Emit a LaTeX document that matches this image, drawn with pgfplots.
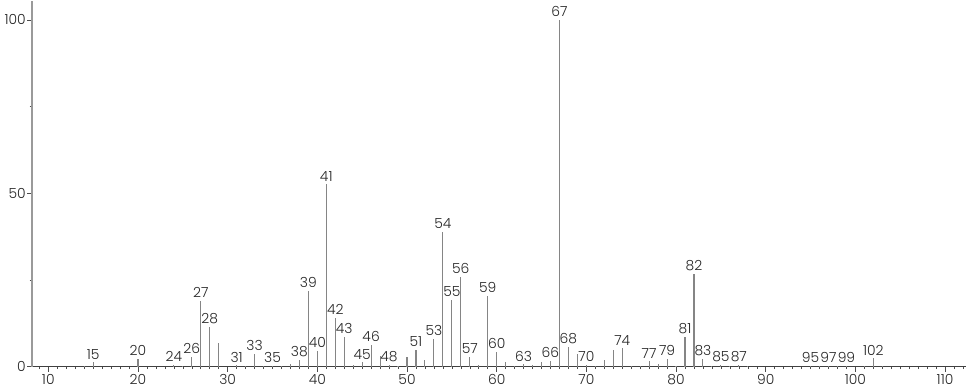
\documentclass[border=0pt]{standalone}
\usepackage{pgfplots}
\pgfplotsset{compat=1.18}
\usepackage{fontspec}
\setmainfont{Poppins}[UprightFont=* Light]
\definecolor{barc}{HTML}{858585}
\definecolor{axc}{HTML}{9A9A9A}
\begin{document}
\fontsize{14}{16}\selectfont
\begin{tikzpicture}
\begin{axis}[
  scale only axis, width=937bp, height=367bp,
  xmin=8.2, xmax=112.3, ymin=0, ymax=105.5,
  axis x line*=bottom, axis y line*=left,
  x axis line style={draw=black!75, line width=0.6pt, -},
  y axis line style={draw=axc, line width=1.8pt, -},
  xtick={10,20,...,110}, ytick={0,50,100},
  minor xtick={9,...,112}, minor ytick={25,75},
  tick align=outside,
  major tick length=5bp, minor tick length=2.5bp,
  tick style={draw=black!70, line width=0.5pt},
  /pgf/number format/assume math mode=true,
  tick label style={font=\fontsize{14}{16}\selectfont, text=black!85},
  xticklabel style={yshift=2bp},
  yticklabel style={xshift=3.5bp},
  clip=false,
]
\addplot[ycomb, draw=barc, line width=1.1pt, mark=none] coordinates {
(14,0.3) (25,0.3) (29,6.8) (32,0.3) (34,0.3) (36,0.3) (37,0.8) (44,0.5)
(47,3.1) (49,0.3) (50,2.7) (52,1.8) (58,0.5) (61,1.2) (62,0.3) (64,0.4)
(65,1.2) (69,3.7) (71,0.3) (72,1.8) (73,4.9) (75,0.3) (76,0.3) (78,0.8)
(80,0.3) (84,0.3) (86,0.2) (88,0.2) (96,0.2) (98,0.2) (101,0.2) (103,0.3)
};
\addplot[ycomb, draw=barc, line width=1.1pt, mark=none,
  point meta=x, nodes near coords,
  nodes near coords style={anchor=south, yshift=1.5bp, font=\fontsize{14}{16}\selectfont, text=black!85, inner sep=1pt, /pgf/number format/assume math mode=true, /pgf/number format/precision=0}]
coordinates {
(15,1.2) (20,2.3) (24,0.5) (26,2.9) (27,19.0) (28,11.5) (31,0.4) (33,3.7)
(35,0.3) (38,2.0) (39,21.8) (40,4.6) (41,52.6) (42,14.0) (43,8.6) (45,1.2)
(46,6.3) (48,0.5) (51,4.8) (53,8.0) (54,38.9) (55,19.3) (56,25.9) (57,2.9)
(59,20.4) (60,4.3) (63,0.6) (66,1.6) (67,100) (68,5.7) (70,0.5) (74,5.3)
(77,1.5) (79,2.3) (81,8.5) (82,26.7) (83,2.1) (85,0.4) (87,0.4) (95,0.3)
(97,0.3) (99,0.3) (102,2.4)
};
\end{axis}
\end{tikzpicture}
\end{document}
